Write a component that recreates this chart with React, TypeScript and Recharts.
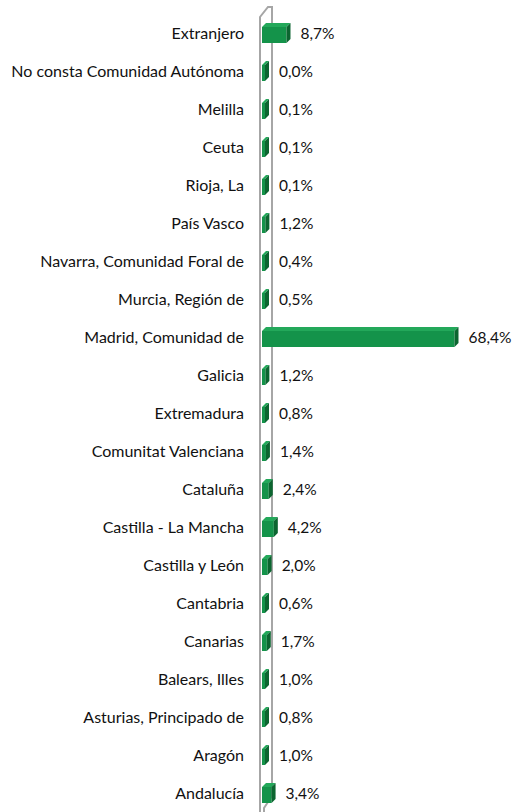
import { Bar, BarChart, XAxis, YAxis, LabelList, Customized } from "recharts"

const regiones = [
  "Extranjero",
  "No consta Comunidad Autónoma",
  "Melilla",
  "Ceuta",
  "Rioja, La",
  "País Vasco",
  "Navarra, Comunidad Foral de",
  "Murcia, Región de",
  "Madrid, Comunidad de",
  "Galicia",
  "Extremadura",
  "Comunitat Valenciana",
  "Cataluña",
  "Castilla - La Mancha",
  "Castilla y León",
  "Cantabria",
  "Canarias",
  "Balears, Illes",
  "Asturias, Principado de",
  "Aragón",
  "Andalucía",
]

const porcentajes = [
  8.7, 0.0, 0.1, 0.1, 0.1, 1.2, 0.4, 0.5, 68.4, 1.2, 0.8, 1.4, 2.4, 4.2, 2.0, 0.6, 1.7, 1.0, 0.8, 1.0, 3.4,
]

const data = regiones.map((name, i) => ({ name, value: porcentajes[i] }))

const FONT = "Lato, sans-serif"
const DEPTH = 4

// barra 3D estilo Excel: cara frontal, tapa y lateral
function Bar3D(props: any) {
  const { x, y, height } = props
  const w = Math.max(props.width || 0, 3)
  const d = DEPTH
  const fy = y + d
  const fh = height - d
  return (
    <g>
      <rect x={x} y={fy} width={w} height={fh} fill="#14934a" />
      <polygon
        points={`${x},${fy} ${x + d},${y} ${x + w + d},${y} ${x + w},${fy}`}
        fill="#23a85a"
      />
      <polygon
        points={`${x + w},${fy} ${x + w + d},${y} ${x + w + d},${y + fh} ${x + w},${fy + fh}`}
        fill="#0c6530"
      />
    </g>
  )
}

function ValueLabel(props: any) {
  const { x, y, width, height, value } = props
  const w = Math.max(width || 0, 3)
  return (
    <text
      x={x + w + DEPTH + 10}
      y={y + height / 2 + 2}
      fontFamily={FONT}
      fontSize={15.5}
      fill="#111"
      dominantBaseline="middle"
    >
      {value.toFixed(1).replace(".", ",")}%
    </text>
  )
}

// pared gris del eje (efecto 3D)
function Wall() {
  return (
    <g fill="none" stroke="#a6a6a6" strokeWidth={2}>
      <polyline points="260,812 260,17 268,7 272,7 272,796 264,808 264,812" />
    </g>
  )
}

export default function App() {
  return (
    <div style={{ position: "absolute", left: 0, top: 0 }}>
      <BarChart
        width={514}
        height={812}
        data={data}
        layout="vertical"
        margin={{ top: 14, right: 55, bottom: 0, left: 0 }}
        barCategoryGap={0}
      >
        <Customized component={Wall} />
        <XAxis type="number" domain={[0, 70]} hide />
        <YAxis
          type="category"
          dataKey="name"
          width={262}
          tickLine={false}
          axisLine={false}
          tickSize={0}
          tickMargin={18}
          interval={0}
          tick={{ fontFamily: FONT, fontSize: 16, fill: "#111" }}
        />
        <Bar dataKey="value" barSize={20} shape={<Bar3D />} isAnimationActive={false}>
          <LabelList dataKey="value" content={<ValueLabel />} />
        </Bar>
      </BarChart>
    </div>
  )
}
